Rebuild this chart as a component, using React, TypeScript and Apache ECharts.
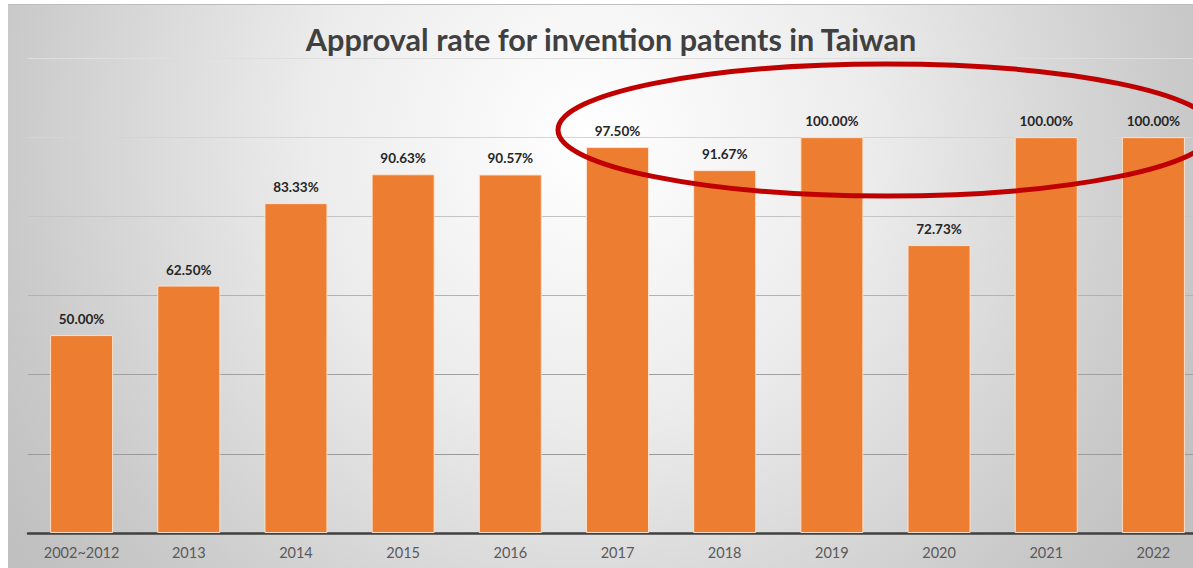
import React, { useEffect, useRef } from "react";
import * as echarts from "echarts";

const categories = ["2002~2012", "2013", "2014", "2015", "2016", "2017", "2018", "2019", "2020", "2021", "2022"];
const approvalRates = [50.0, 62.5, 83.33, 90.63, 90.57, 97.5, 91.67, 100.0, 72.73, 100.0, 100.0];
const titleText = "Approval rate for invention patents in Taiwan";
const gridLineColors = ["#9a9a9a", "#9a9a9a", "#a0a0a0", "#b2b2b2", "#c4c4c4", "#d4d4d4", "#dedede"];

export default function App() {
  const ref = useRef<HTMLDivElement>(null);
  useEffect(() => {
    document.body.style.overflow = "hidden";
    if (!ref.current) return;
    const chart = echarts.init(ref.current, null, { renderer: "svg" });
    chart.setOption({
      animation: false,
      backgroundColor: "#ffffff",
      title: {
        text: titleText,
        left: 606,
        textAlign: "center",
        top: 19,
        textStyle: { fontFamily: "Lato", fontWeight: "bold", fontSize: 30.6, color: "#404040" },
      },
      graphic: [
        {
          type: "rect",
          z: -10,
          silent: true,
          shape: { x: 8, y: 4, width: 1199, height: 564 },
          style: {
            fill: {
              type: "radial",
              x: 590,
              y: 140,
              r: 700,
              global: true,
              colorStops: [
                { offset: 0, color: "#ffffff" },
                { offset: 0.4, color: "#ececec" },
                { offset: 0.85, color: "#c9c9c9" },
                { offset: 1, color: "#c0c0c0" },
              ],
            },
          },
        },
        {
          type: "line",
          z: -9,
          silent: true,
          shape: { x1: 8, y1: 4.5, x2: 1207, y2: 4.5 },
          style: { stroke: "#bdbdbd", lineWidth: 1 },
        },
        {
          type: "ellipse",
          z: 100,
          silent: true,
          shape: { cx: 886, cy: 130, rx: 328, ry: 66 },
          style: { fill: "none", stroke: "#C00000", lineWidth: 5 },
        },
      ],
      grid: { left: 28, right: 0, top: 58, bottom: 35 },
      xAxis: {
        type: "category",
        data: categories,
        axisLine: { show: true, lineStyle: { color: "#404040", width: 2.5 } },
        axisTick: { show: false },
        axisLabel: { color: "#595959", fontFamily: "Lato", fontSize: 14.5, margin: 12 },
      },
      yAxis: {
        type: "value",
        min: 0,
        max: 120,
        interval: 20,
        axisLabel: { show: false },
        axisLine: { show: false },
        axisTick: { show: false },
        splitLine: { show: true, lineStyle: { color: gridLineColors, width: 1 } },
      },
      series: [
        {
          type: "bar",
          data: approvalRates,
          barWidth: 63,
          itemStyle: { color: "#ED7D31", borderColor: "rgba(255,230,210,0.9)", borderWidth: 1 },
          label: {
            show: true,
            position: "top",
            distance: 9,
            fontFamily: "Lato",
            fontWeight: "bold",
            fontSize: 13.5,
            color: "#262626",
            formatter: (p: any) => Number(p.value).toFixed(2) + "%",
          },
        },
      ],
    });
    return () => chart.dispose();
  }, []);
  return (
    <div
      ref={ref}
      style={{ position: "fixed", left: 0, top: 0, width: 1207, height: 568 }}
    />
  );
}
